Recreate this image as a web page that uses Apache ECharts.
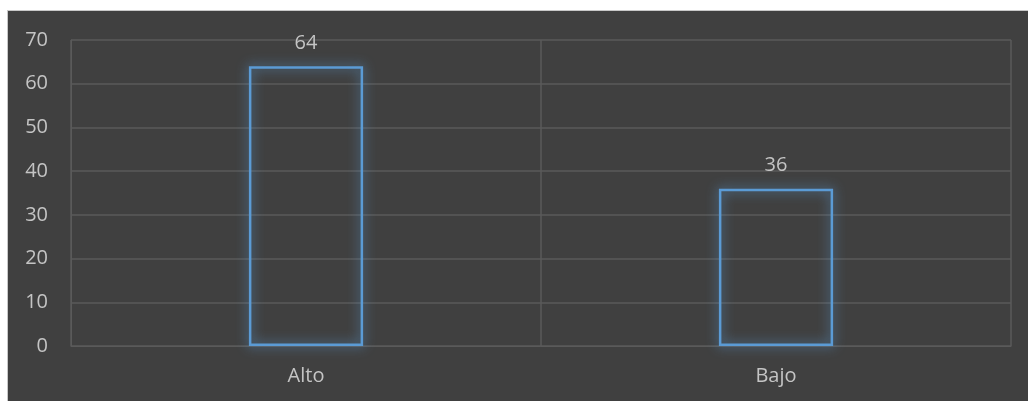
<!DOCTYPE html>
<html>
<head>
<meta charset="utf-8">
<script src="https://cdn.jsdelivr.net/npm/echarts@6/dist/echarts.min.js"></script>
<style>
html,body{margin:0;padding:0;background:#ffffff;width:1028px;height:401px;overflow:hidden;}
#wrap{position:absolute;left:7px;top:10px;width:1021px;height:391px;border-left:1px solid #c8c8c8;border-top:1px solid #c8c8c8;background:#404040;}
#chart{width:1021px;height:391px;}
</style>
</head>
<body>
<div id="wrap"><div id="chart"></div></div>
<script>
const categories = ['Alto', 'Bajo'];
const values = [64, 36];
const yTicks = { min: 0, max: 70, interval: 10 };

const chart = echarts.init(document.getElementById('chart'));
chart.setOption({
  backgroundColor: '#404040',
  animation: false,
  textStyle: { fontFamily: 'Open Sans' },
  grid: { left: 63, right: 18, top: 29, bottom: 56 },
  xAxis: {
    type: 'category',
    data: categories,
    boundaryGap: true,
    axisLine: { show: true, lineStyle: { color: '#5a5a5a', width: 1 } },
    axisTick: { show: false },
    splitLine: { show: true, lineStyle: { color: '#5a5a5a', width: 1.5 } },
    axisLabel: { color: '#c4c4c4', fontSize: 20, margin: 20, fontFamily: 'Open Sans' }
  },
  yAxis: {
    type: 'value',
    min: yTicks.min, max: yTicks.max, interval: yTicks.interval,
    axisLine: { show: true, lineStyle: { color: '#5a5a5a' } },
    axisTick: { show: false },
    splitLine: { show: true, lineStyle: { color: '#5a5a5a', width: 1.5 } },
    axisLabel: { color: '#c4c4c4', fontSize: 20, margin: 23, fontFamily: 'Open Sans' }
  },
  series: [{
    type: 'bar',
    data: values,
    barWidth: '24.3%',
    itemStyle: {
      color: 'rgba(64,64,64,0)',
      borderColor: '#5b9bd5',
      borderWidth: 2.5,
      shadowColor: 'rgba(91,155,213,1)',
      shadowBlur: 12
    },
    label: {
      show: true,
      position: 'top',
      distance: 13,
      color: '#c4c4c4',
      fontSize: 20,
      fontFamily: 'Open Sans'
    }
  }]
});
</script>
</body>
</html>
